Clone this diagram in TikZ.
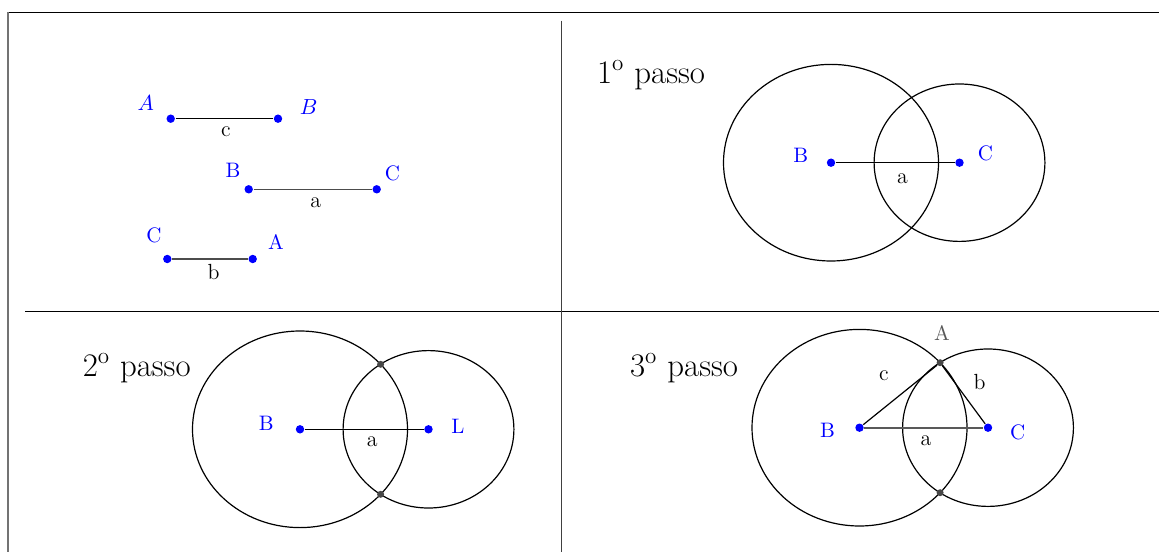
\documentclass[tikz,border=0pt]{standalone}
\usetikzlibrary{positioning}

\begin{document}
\begin{tikzpicture}[x=0.5bp, y=-0.5bp, line width=0.6bp,
    pt/.style={circle, fill=blue, inner sep=0pt, minimum size=4.2bp},
    cut/.style={circle, fill=black!72, inner sep=0pt, minimum size=3.5bp},
    lab/.style={text=blue, font=\fontsize{10.5}{12}\selectfont, inner sep=0pt},
    seglab/.style={font=\fontsize{11}{13}\selectfont, inner sep=0pt},
    passo/.style={font=\fontsize{16.5}{19}\selectfont, inner sep=0pt},
    bigc/.style={x radius=53.75bp, y radius=49.15bp},
    smallc/.style={x radius=42.7bp, y radius=39.35bp}]
  \useasboundingbox (0,0) rectangle (1159,552);
  % ================================================================ frame and dividers
  \draw[line width=0.65bp] (8,12.3) -- (1159,12.3);
  \draw[black!55, line width=0.65bp] (8,12.3) -- (8,552);
  \draw (25,311.7) -- (1159,311.7);
  \draw[black!75] (561.7,20.7) -- (561.7,552);
  % ================================================================ the three segments (top left)
  \node[pt] (cA) at (170.7,118.7) {};
  \node[pt] (cB) at (278,118.7) {};
  \draw (cA) -- (cB);
  \node[lab] at (145.8,103) {$A$};
  \node[lab] at (308.7,106.7) {$B$};
  \node[seglab] at (226,131.3) {c};
  \node[pt] (aB) at (248.7,189.3) {};
  \node[pt] (aC) at (376.7,189.3) {};
  \draw[black!70, line width=0.75bp] (aB) -- (aC);
  \node[lab] at (233,170.7) {B};
  \node[lab] at (392.3,173) {C};
  \node[seglab] at (315.8,202.5) {a};
  \node[pt] (bC) at (167.3,259) {};
  \node[pt] (bA) at (252.7,259) {};
  \draw[black!70, line width=0.75bp] (bC) -- (bA);
  \node[lab] at (154,235) {C};
  \node[lab] at (276,242) {A};
  \node[seglab] at (213.7,272.5) {b};
  % ================================================================ 1st step (top right)
  \node[passo] at (651,75) {1\textsuperscript{o} passo};
  \begin{scope}[shift={(831,162.7)}]
    \draw (0,0) ellipse [bigc];
    \draw (128.5,0) ellipse [smallc];
    \node[pt] (B1) at (0,0) {};
    \node[pt] (C1) at (128.5,0) {};
    \draw (B1) -- (C1);
    \node[lab] at (-30.2,-7.2) {B};
    \node[lab] at (154.5,-9.4) {C};
    \node[seglab] at (71.4,16.1) {a};
  \end{scope}
  % ================================================================ 2nd step (bottom left)
  \node[passo] at (136.7,368.3) {2\textsuperscript{o} passo};
  \begin{scope}[shift={(300,429.3)}]
    \draw (0,0) ellipse [bigc];
    \draw (128.5,0) ellipse [smallc];
    \node[pt] (B2) at (0,0) {};
    \node[pt] (L2) at (128.5,0) {};
    \draw (B2) -- (L2);
    \foreach \s/\yy in {up/-65, dn/65} \node[cut] (X2\s) at (80.6,\yy) {};
    \node[lab] at (-33.7,-5.6) {B};
    \node[lab] at (157.8,-3.3) {L};
    \node[seglab] at (72.2,12.4) {a};
  \end{scope}
  % ================================================================ 3rd step (bottom right)
  \node[passo] at (684,368) {3\textsuperscript{o} passo};
  \begin{scope}[shift={(859.5,427.7)}]
    \draw (0,0) ellipse [bigc];
    \draw (128.5,0) ellipse [smallc];
    \node[pt] (B3) at (0,0) {};
    \node[pt] (C3) at (128.5,0) {};
    \node[cut] (A3) at (80.6,-65) {};
    \node[cut] (X3dn) at (80.6,65) {};
    \draw[black!65, line width=1bp] (B3) -- (C3);
    \draw (B3) -- (A3) -- (C3);
    \node[lab] at (-32.1,2.3) {B};
    \node[lab] at (158.1,5) {C};
    \node[lab, text=black!65] at (82.4,-94.4) {A};
    \node[seglab] at (66.5,13.3) {a};
    \node[seglab] at (24.4,-51.7) {c};
    \node[seglab] at (120.1,-46) {b};
  \end{scope}
\end{tikzpicture}
\end{document}
